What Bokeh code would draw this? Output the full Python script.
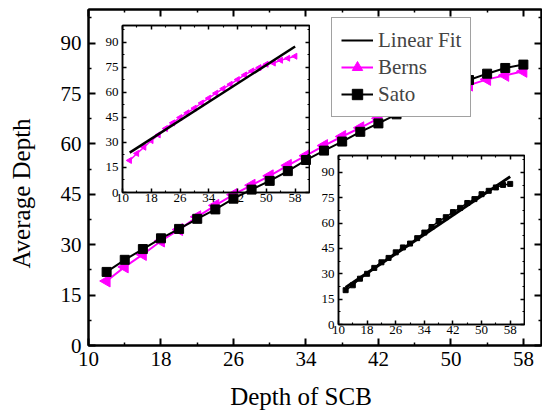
import numpy as np
from bokeh.plotting import figure
from bokeh.models import (Range1d, FixedTicker, LinearAxis, Legend, LegendItem, GridBox)
from bokeh.embed import file_html
from bokeh.resources import INLINE

# ---------------- data ----------------
depth = [12, 14, 16, 18, 20, 22, 24, 26, 28, 30, 32, 34,
         36, 38, 40, 42, 44, 46, 48, 50, 52, 54, 56, 58]
sato = [21.9, 25.5, 28.7, 31.9, 34.7, 37.7, 40.5, 43.7, 46.4, 49.0, 51.9, 55.2,
        58.0, 60.7, 63.6, 66.1, 68.8, 71.0, 73.4, 75.6, 79.0, 80.9, 82.6, 83.6]
berns = [19.2, 23.4, 27.1, 31.1, 34.5, 38.3, 41.7, 44.9, 47.7, 50.5, 53.6, 56.5,
         59.5, 62.2, 64.8, 67.6, 70.4, 72.8, 74.8, 76.8, 77.5, 79.2, 80.4, 81.6]
sato_inset = [20.3, 23.2, 27.1, 30.0, 33.5, 36.8, 39.4, 42.7, 45.6, 47.9, 51.1, 54.4,
              57.7, 61.2, 63.5, 66.5, 69.0, 71.9, 74.2, 77.1, 79.1, 81.1, 82.6, 83.2]
fit_x = [12, 58]
fit_berns = [23.9, 87.4]
fit_sato = [21.9, 87.5]

x_ticks = [10, 18, 26, 34, 42, 50, 58]
x_minor = [14, 22, 30, 38, 46, 54, 62]
y_ticks = [0, 15, 30, 45, 60, 75, 90]
y_minor = [7.5, 22.5, 37.5, 52.5, 67.5, 82.5, 97.5]

FONT = "Liberation Serif"
MAGENTA = "#FF00FF"

# common borders (GridBox aligns the frames of all its children)
BL, BT, BR, BB = 88, 9, 1, 66


def style_axis(ax, ticks, minor, size, standoff, tin, min_in, lw, show_labels=True):
    ax.ticker = FixedTicker(ticks=ticks, minor_ticks=minor)
    ax.major_tick_in = tin
    ax.major_tick_out = 0
    ax.minor_tick_in = min_in
    ax.minor_tick_out = 0
    ax.axis_line_width = lw
    ax.axis_line_color = "black"
    ax.major_tick_line_width = lw
    ax.minor_tick_line_width = max(1, lw * 0.75)
    ax.major_label_text_font = FONT
    ax.major_label_text_color = "black"
    ax.major_label_text_font_size = size
    if show_labels:
        ax.major_label_standoff = standoff
    else:
        ax.major_label_standoff = 0
        ax.major_label_overrides = {t: "" for t in ticks}


def base_fig(width, height, xr, yr, margin=None, transparent=True):
    kw = dict(width=width, height=height, x_range=xr, y_range=yr,
              output_backend="svg", toolbar_location=None,
              min_border_left=BL, min_border_right=BR,
              min_border_top=BT, min_border_bottom=BB)
    if margin is not None:
        kw["margin"] = margin
    f = figure(**kw)
    if transparent:
        f.background_fill_alpha = 0
        f.border_fill_alpha = 0
    else:
        f.background_fill_color = "white"
        f.border_fill_color = "white"
    f.grid.visible = False
    return f


# ---------------- main figure ----------------
p = base_fig(542, 412, Range1d(10, 60), Range1d(0, 100), transparent=False)
p.outline_line_color = "black"
p.outline_line_width = 2
p.outline_line_alpha = 1

style_axis(p.xaxis[0], x_ticks, x_minor, "21px", 6, 7, 3, 2)
style_axis(p.yaxis[0], y_ticks, y_minor, "21px", 7, 7, 3, 2)
top_ax = LinearAxis()
right_ax = LinearAxis()
style_axis(top_ax, x_ticks, x_minor, "21px", 0, 7, 3, 2, show_labels=False)
style_axis(right_ax, y_ticks, y_minor, "21px", 0, 7, 3, 2, show_labels=False)
p.add_layout(top_ax, "above")
p.add_layout(right_ax, "right")

fit_main = p.line(fit_x, fit_sato, color="black", line_width=2, visible=False)
bl = p.line(depth, berns, color=MAGENTA, line_width=2)
bs = p.scatter(depth, berns, marker="triangle", angle=90, angle_units="deg",
               size=12, color=MAGENTA)
sl = p.line(depth, sato, color="black", line_width=2)
ss = p.scatter(depth, sato, marker="square", size=9, color="black")

legend = Legend(items=[LegendItem(label="Linear Fit", renderers=[fit_main]),
                       LegendItem(label="Berns", renderers=[bl, bs]),
                       LegendItem(label="Sato", renderers=[sl, ss])],
                location=(243, 228), margin=0, padding=9, spacing=1,
                glyph_width=32, glyph_height=26, label_height=26, label_standoff=5,
                label_text_font=FONT, label_text_font_size="21px",
                border_line_color="#444444", border_line_width=1,
                background_fill_color="white", background_fill_alpha=1,
                inactive_fill_alpha=0)
p.add_layout(legend)

# ---------------- carrier for the axis titles (offset like the reference) ----------------
t = base_fig(514, 380, Range1d(10, 60), Range1d(0, 100), margin=(32, 0, 0, 0))
t.outline_line_color = None
for ax in (t.xaxis[0], t.yaxis[0]):
    ax.ticker = FixedTicker(ticks=[])
    ax.axis_line_color = None
    ax.major_tick_line_color = None
    ax.minor_tick_line_color = None
    ax.axis_label_text_font = FONT
    ax.axis_label_text_font_size = "25px"
    ax.axis_label_text_font_style = "normal"
    ax.axis_label_text_color = "black"
t.xaxis[0].axis_label = "Depth of SCB"
t.xaxis[0].axis_label_standoff = 37
t.yaxis[0].axis_label = "Average Depth"
t.yaxis[0].axis_label_standoff = 54


# ---------------- insets ----------------
def make_inset(fw, fh, margin):
    q = base_fig(BL + fw + BR, BT + fh + BB, Range1d(10, 62), Range1d(0, 100), margin=margin)
    q.outline_line_color = "black"
    q.outline_line_width = 1.5
    q.outline_line_alpha = 1
    style_axis(q.xaxis[0], x_ticks, x_minor, "13px", 1, 4, 2, 1.5)
    style_axis(q.yaxis[0], y_ticks, y_minor, "13px", 4, 4, 2, 1.5)
    ta = LinearAxis()
    ra = LinearAxis()
    style_axis(ta, x_ticks, x_minor, "13px", 0, 4, 2, 1.5, show_labels=False)
    style_axis(ra, y_ticks, y_minor, "13px", 0, 4, 2, 1.5, show_labels=False)
    q.add_layout(ta, "above")
    q.add_layout(ra, "right")
    return q


inset1 = make_inset(187, 168, (16, 0, 0, 34))
inset1.line(depth, berns, color=MAGENTA, line_width=1.5)
inset1.scatter(depth, berns, marker="triangle", angle=90, angle_units="deg",
               size=6, color=MAGENTA)
inset1.line(fit_x, fit_berns, color="black", line_width=2.5)

inset2 = make_inset(186, 170, (146, 0, 0, 250))
inset2.line(depth, sato_inset, color="black", line_width=1.5)
inset2.scatter(depth, sato_inset, marker="square", size=5, color="black")
inset2.line(fit_x, fit_sato, color="black", line_width=3)

grid = GridBox(children=[(p, 0, 0), (t, 0, 0), (inset1, 0, 0), (inset2, 0, 0)])

open("out.html", "w").write(file_html(grid, INLINE))
